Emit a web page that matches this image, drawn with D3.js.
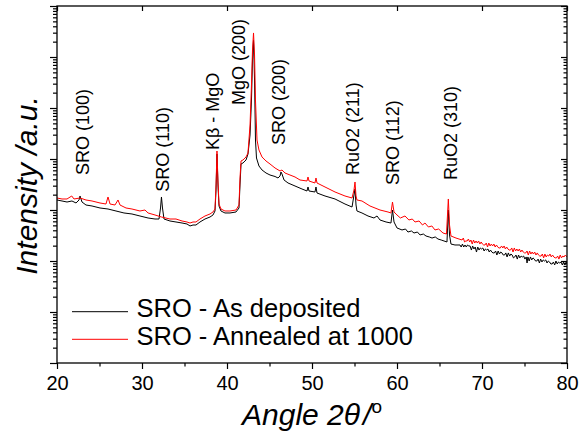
<!DOCTYPE html>
<html>
<head>
<meta charset="utf-8">
<script src="https://cdn.jsdelivr.net/npm/d3@7"></script>
<style>
  body { margin: 0; background: #fff; }
  svg { display: block; }
  text { font-family: "Liberation Sans", Arial, sans-serif; fill: #000; }
</style>
</head>
<body>
<svg id="chart" width="581" height="437"></svg>
<script>
// XRD scans: [2θ in degrees, intensity in counts]
const asDeposited = [
  [20.00,1571],[20.59,1502],[21.18,1435],[21.76,1502],[22.24,1372],[22.59,1571],[22.71,1882],[22.94,1435],
  [23.41,1253],[24.12,1198],[25.06,1095],[26.00,1046],[26.94,956],[27.88,874],[28.82,835],[29.76,763],
  [30.71,697],[31.53,666],[32.00,666],[32.18,1095],[32.29,1799],[32.41,1095],[32.59,666],[33.29,609],
  [34.00,582],[34.71,556],[35.29,532],[35.65,486],[36.00,508],[36.35,508],[36.82,582],[37.41,666],
  [38.00,729],[38.35,798],[38.59,956],[38.71,2467],[38.82,12530],[38.94,3092],[39.06,1198],[39.29,956],
  [39.76,874],[40.35,874],[41.06,914],[41.41,1095],[41.53,3092],[41.65,7982],[41.88,8350],[42.24,9562],
  [42.47,12530],[42.71,29560],[42.88,143500],[43.00,874000],[43.12,2150000],[43.24,354000],[43.35,23580],
  [43.47,10460],[43.76,7292],[44.12,6087],[44.59,5315],[45.06,4856],[45.65,4540],[46.00,4242],[46.24,4642],
  [46.35,5561],[46.47,5080],[46.71,3876],[47.18,3385],[48.00,2956],[48.82,2581],[49.41,2358],[49.53,2825],
  [49.65,2358],[50.35,2254],[50.47,2825],[50.59,2154],[51.53,1882],[52.71,1644],[53.88,1311],[54.71,1145],
  [54.94,1969],[55.06,2581],[55.18,1253],[55.29,956],[55.88,874],[56.59,763],[57.29,697],[57.65,763],
  [58.00,637],[58.71,582],[59.29,556],[59.47,1000],[59.65,582],[60.00,444],[60.59,406],[61.00,424],
  [61.29,370],[61.70,388],[62.00,354],[62.40,370],[62.71,324],[63.10,338],[63.41,309],[63.80,296],
  [64.12,282],[64.50,296],[64.82,270],[65.20,258],[65.53,247],[65.88,236],[66.04,1000],[66.18,324],
  [66.35,215],[66.82,206],[67.41,206],
  [67.55,188],[67.70,215],[67.85,188],[68.00,206],[68.15,188],[68.30,206],[68.45,197],[68.60,197],
  [68.75,164],[68.90,197],[69.05,172],[69.20,188],[69.35,150],[69.50,188],[69.65,164],[69.80,180],
  [69.95,172],[70.10,180],[70.25,157],[70.40,172],[70.55,164],[70.70,172],[70.85,150],[71.00,164],
  [71.15,150],[71.30,144],[71.45,144],[71.60,157],[71.75,131],[71.90,157],[72.05,137],[72.20,150],
  [72.35,144],[72.50,131],[72.65,131],[72.80,144],[72.95,120],[73.10,144],[73.25,125],[73.40,137],
  [73.55,131],[73.70,115],[73.85,120],[74.00,131],[74.15,109],[74.30,131],[74.45,115],[74.60,125],
  [74.75,120],[74.90,125],[75.05,109],[75.20,120],[75.30,91.4],[75.40,120],[75.55,100],[75.70,120],
  [75.85,105],[76.00,115],[76.15,109],[76.30,100],[76.45,100],[76.60,109],[76.75,91.4],[76.90,109],
  [77.05,95.6],[77.20,105],[77.35,100],[77.50,105],[77.65,91.4],[77.80,100],[77.95,95.6],[78.10,87.4],
  [78.25,87.4],[78.40,95.6],[78.55,83.5],[78.70,100],[78.85,87.4],[79.00,95.6],[79.15,91.4],[79.30,95.6],
  [79.45,83.5],[79.60,95.6],[79.75,83.5],[79.90,95.6],[80.00,87.4]
];

const annealed1000 = [
  [20.00,1720],[20.59,1644],[21.18,1644],[21.73,1882],[22.00,1644],[22.71,1720],[23.41,1571],[24.12,1502],
  [25.06,1372],[25.76,1311],[26.00,1799],[26.24,1311],[26.82,1253],[27.18,1571],[27.41,1253],[28.12,1095],
  [28.82,1046],[29.76,956],[30.35,1000],[30.71,874],[31.53,798],[32.29,729],[33.29,666],[34.00,666],
  [34.71,609],[35.29,582],[35.65,556],[36.00,582],[36.35,582],[36.82,666],[37.41,763],[38.00,835],
  [38.35,914],[38.59,1046],[38.71,3092],[38.82,14350],[38.94,3541],[39.06,1311],[39.29,1046],[39.76,956],
  [40.35,956],[41.06,1000],[41.41,1253],[41.53,4242],[41.65,9140],[41.88,9562],[42.24,10950],[42.47,13110],
  [42.71,46420],[42.88,283000],[43.00,1370000],[43.12,2960000],[43.24,1095000],[43.35,143500],[43.53,23580],
  [43.76,15020],[44.12,10950],[44.59,9140],[45.06,7982],[45.65,6662],[46.24,5818],[46.47,6087],[46.82,5315],
  [47.41,4856],[48.00,4438],[48.59,3876],[49.41,3705],[49.53,4438],[49.65,3705],[50.35,3385],[50.47,4242],
  [50.59,3385],[51.53,2825],[52.71,2254],[53.88,1882],[54.71,1720],[54.94,2467],[55.06,3541],[55.18,1882],
  [55.29,1571],[55.88,1502],[56.82,1198],[58.00,1000],[58.94,914],[59.29,874],[59.47,1435],[59.65,914],
  [60.00,798],[60.40,697],[60.94,763],[61.40,637],[61.80,666],[62.12,582],[62.60,609],[63.00,508],
  [63.29,556],[63.70,464],[64.10,486],[64.47,406],[64.90,424],[65.41,354],[65.82,338],[65.94,798],
  [66.04,1644],[66.18,508],[66.35,309],[66.94,282],[67.65,258],
  [67.80,282],[67.95,236],[68.10,247],[68.25,247],[68.40,270],[68.55,236],[68.70,258],[68.85,215],
  [69.00,258],[69.15,225],[69.30,247],[69.45,225],[69.60,247],[69.75,215],[69.90,236],[70.05,215],
  [70.20,206],[70.35,206],[70.50,225],[70.65,188],[70.80,225],[70.95,197],[71.10,215],[71.25,197],
  [71.40,215],[71.55,188],[71.70,206],[71.85,188],[72.00,180],[72.15,180],[72.30,197],[72.45,180],
  [72.60,197],[72.75,172],[72.90,188],[73.05,172],[73.20,164],[73.35,164],[73.50,180],[73.65,150],
  [73.80,180],[73.95,157],[74.10,172],[74.25,157],[74.40,172],[74.55,150],[74.70,164],[74.85,150],
  [75.00,144],[75.15,144],[75.30,157],[75.45,131],[75.60,157],[75.75,137],[75.90,150],[76.05,137],
  [76.20,150],[76.35,131],[76.50,144],[76.65,131],[76.80,125],[76.95,125],[77.10,137],[77.25,115],
  [77.40,137],[77.55,120],[77.70,131],[77.85,125],[78.00,137],[78.15,120],[78.30,131],[78.45,120],
  [78.60,115],[78.75,115],[78.90,125],[79.05,109],[79.20,131],[79.35,115],[79.50,125],[79.65,120],
  [79.80,131],[80.00,120]
];

const seriesNames = ["SRO - As deposited", "SRO - Annealed at 1000"];
const seriesColors = ["#000000", "#ff0000"];

// Reflection labels: name, 2θ of the text baseline, intensity where the text starts
const peakNames  = ["SRO (100)", "SRO (110)", "K\u03B2 - MgO", "MgO (200)", "SRO (200)", "RuO2 (211)", "SRO (112)", "RuO2 (310)"];
const peakAngles = [23.73, 33.14, 39.02, 42.15, 46.82, 55.49, 60.20, 67.06];
const peakCounts = [4860, 2285, 15000, 114500, 18830, 4860, 3090, 3875];

const xMajorTicks = [20, 30, 40, 50, 60, 70, 80];
const xMinorTicks = [25, 35, 45, 55, 65, 75];

const svg = d3.select("#chart");
const pL = 57, pR = 567, pT = 6, pB = 363;

const x = d3.scaleLinear().domain([20, 80]).range([pL, pR]);
const y = d3.scaleLog().domain([1, 1e7]).range([pB, pT]);

const yMajor = d3.range(0, 8).map(k => Math.pow(10, k));
const yMinor = [];
for (let k = 0; k < 7; k++) for (let m = 2; m <= 9; m++) yMinor.push(m * Math.pow(10, k));

function styleAxis(g) {
  g.select(".domain").remove();
  g.selectAll(".tick line").attr("stroke", "#000").attr("stroke-width", 1.2);
}

// bottom axis (outward ticks, labelled)
svg.append("g").attr("transform", `translate(0,${pB})`)
  .call(d3.axisBottom(x).tickValues(xMajorTicks).tickSize(6).tickPadding(7).tickFormat(d3.format("d")))
  .call(styleAxis)
  .call(g => g.selectAll("text").attr("font-size", 20).attr("font-family", "Liberation Sans, Arial, sans-serif"));
svg.append("g").attr("transform", `translate(0,${pB})`)
  .call(d3.axisBottom(x).tickValues(xMinorTicks).tickSize(3.5).tickFormat(() => ""))
  .call(styleAxis);

// top axis (inward major ticks)
svg.append("g").attr("transform", `translate(0,${pT})`)
  .call(d3.axisTop(x).tickValues(xMajorTicks).tickSize(-5).tickFormat(() => ""))
  .call(styleAxis);

// left axis (outward ticks, no labels)
svg.append("g").attr("transform", `translate(${pL},0)`)
  .call(d3.axisLeft(y).tickValues(yMajor).tickSize(7).tickFormat(() => ""))
  .call(styleAxis);
svg.append("g").attr("transform", `translate(${pL},0)`)
  .call(d3.axisLeft(y).tickValues(yMinor).tickSize(4).tickFormat(() => ""))
  .call(styleAxis);

// right axis (inward ticks)
svg.append("g").attr("transform", `translate(${pR},0)`)
  .call(d3.axisRight(y).tickValues(yMajor).tickSize(-6).tickFormat(() => ""))
  .call(styleAxis);
svg.append("g").attr("transform", `translate(${pR},0)`)
  .call(d3.axisRight(y).tickValues(yMinor).tickSize(-3.5).tickFormat(() => ""))
  .call(styleAxis);

// curves
svg.append("defs").append("clipPath").attr("id", "plotClip")
  .append("rect").attr("x", pL).attr("y", pT).attr("width", pR - pL).attr("height", pB - pT);

const line = d3.line().x(d => x(d[0])).y(d => y(d[1]));
const plot = svg.append("g").attr("clip-path", "url(#plotClip)");
[asDeposited, annealed1000].forEach((s, i) => {
  plot.append("path").datum(s)
    .attr("d", line)
    .attr("fill", "none")
    .attr("stroke", seriesColors[i])
    .attr("stroke-width", 1)
    .attr("stroke-linejoin", "round");
});

// frame
svg.append("rect").attr("x", pL).attr("y", pT)
  .attr("width", pR - pL).attr("height", pB - pT)
  .attr("fill", "none").attr("stroke", "#000").attr("stroke-width", 1.3);

// reflection labels
peakNames.forEach((name, i) => {
  svg.append("text")
    .attr("transform", `translate(${x(peakAngles[i])},${y(peakCounts[i])}) rotate(-90)`)
    .attr("font-size", 18)
    .attr("text-anchor", "start")
    .text(name);
});

// legend
seriesNames.forEach((name, i) => {
  const ly = 311.7 + i * 27.6;
  svg.append("line").attr("x1", 72).attr("x2", 128).attr("y1", ly).attr("y2", ly)
    .attr("stroke", seriesColors[i]).attr("stroke-width", 1);
  svg.append("text").attr("x", 136.5).attr("y", ly + 5.2)
    .attr("font-size", 25.5).text(name);
});

// axis titles
svg.append("text")
  .attr("transform", `translate(36.5,${(pT + pB) / 2 + 1}) rotate(-90)`)
  .attr("text-anchor", "middle")
  .attr("font-size", 30)
  .attr("font-style", "italic")
  .text("Intensity /a.u.");

const xt = svg.append("text")
  .attr("x", (pL + pR) / 2)
  .attr("y", 425)
  .attr("text-anchor", "middle")
  .attr("font-size", 30)
  .attr("font-style", "italic");
xt.append("tspan").text("Angle 2");
xt.append("tspan").text("\u03B8");
xt.append("tspan").attr("dx", 3).text("/");
xt.append("tspan").attr("dy", -12).attr("font-size", 19).attr("font-style", "normal").text("o");
</script>
</body>
</html>
